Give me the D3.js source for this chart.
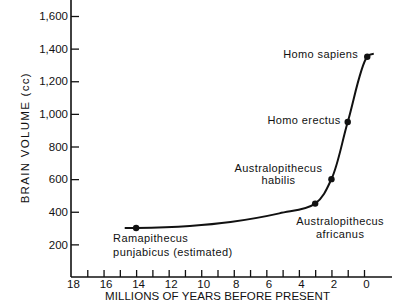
<!DOCTYPE html>
<html lang="en">
<head>
  <meta charset="UTF-8">
  <title>Brain volume over time</title>
  <script src="https://cdnjs.cloudflare.com/ajax/libs/d3/7.8.5/d3.min.js"></script>
  <style>
    body { margin: 0; background: #fff; }
    svg { display: block; font-family: "Liberation Sans", Arial, sans-serif; }
    text { fill: #111; }
  </style>
</head>
<body>
  <div id="chart"></div>
  <script>
    // curve (millions of years before present, cc)
    const curveYears  = [14.7, 14.0, 10.7, 8.2, 5.2, 3.0, 2.0, 1.0, -0.2, -0.6];
    const curveVolume = [300, 300, 313, 337, 390, 450, 600, 950, 1350, 1368];

    // labelled specimens
    const species = ["Ramapithecus", "Australopithecus africanus", "Australopithecus habilis", "Homo erectus", "Homo sapiens"];
    const speciesYears  = [14.0, 3.0, 2.0, 1.0, -0.2];
    const speciesVolume = [300, 450, 600, 950, 1350];
    const speciesLines = [
      ["Ramapithecus", "punjabicus (estimated)"],
      ["Australopithecus", "africanus"],
      ["Australopithecus", "habilis"],
      ["Homo erectus"],
      ["Homo sapiens"]
    ];

    const yTicks = [200, 400, 600, 800, 1000, 1200, 1400, 1600];
    const xTicks = d3.range(0, 18);          // minor ticks every million years
    const xLabels = [18, 16, 14, 12, 10, 8, 6, 4, 2, 0];

    // label placement relative to each dot: anchor, dx, dy of first line, line gap
    const labelLayout = [
      { anchor: "start",  dx: -23, dy: 14, gap: 14 },
      { anchor: "middle", dx: 25,  dy: 21, gap: 13 },
      { anchor: "middle", dx: -53, dy: -7, gap: 12 },
      { anchor: "end",    dx: -7,  dy: 2,  gap: 0 },
      { anchor: "end",    dx: -9,  dy: 1,  gap: 0 }
    ];

    const W = 405, H = 308;
    const svg = d3.select("#chart").append("svg")
      .attr("width", W).attr("height", H);

    const x = d3.scaleLinear().domain([18, 0]).range([71, 364]);
    const y = d3.scaleLinear().domain([0, 1600]).range([277, 16]);

    // axes
    const xAxis = svg.append("g")
      .attr("transform", `translate(0,${y(0)})`)
      .call(d3.axisBottom(x).tickValues(xTicks).tickSizeInner(-7).tickSizeOuter(0)
        .tickFormat(() => ""));
    xAxis.select(".domain").remove();
    xAxis.selectAll("line").attr("stroke", "#111").attr("stroke-width", 1.3);

    const xLab = svg.append("g")
      .attr("transform", `translate(0,${y(0)})`)
      .call(d3.axisBottom(x).tickValues(xLabels).tickSize(0).tickPadding(3));
    xLab.select(".domain").remove();
    xLab.selectAll("text").attr("font-size", 11.5).attr("dx", 2)
      .attr("font-family", "Liberation Sans, Arial, sans-serif");

    const yAxis = svg.append("g")
      .attr("transform", `translate(${x(18)},0)`)
      .call(d3.axisLeft(y).tickValues(yTicks).tickSizeInner(-8).tickSizeOuter(0).tickPadding(3)
        .tickFormat(d3.format(",")));
    yAxis.select(".domain").remove();
    yAxis.selectAll("line").attr("stroke", "#111").attr("stroke-width", 1.3);
    yAxis.selectAll("text").attr("font-size", 11.5)
      .attr("font-family", "Liberation Sans, Arial, sans-serif");

    // axis lines
    svg.append("line")
      .attr("x1", x(18)).attr("x2", x(-1.72))
      .attr("y1", y(0)).attr("y2", y(0))
      .attr("stroke", "#111").attr("stroke-width", 1.6);
    svg.append("line")
      .attr("x1", x(18)).attr("x2", x(18))
      .attr("y1", y(0)).attr("y2", y(1700))
      .attr("stroke", "#111").attr("stroke-width", 1.6);

    // axis titles
    svg.append("text")
      .attr("x", (x(18) + x(-1.72)) / 2 - 14).attr("y", 300)
      .attr("text-anchor", "middle")
      .attr("font-size", 11.5)
      .attr("textLength", 225).attr("lengthAdjust", "spacing")
      .text("MILLIONS OF YEARS BEFORE PRESENT");

    svg.append("text")
      .attr("transform", `translate(29,${y(850)}) rotate(-90)`)
      .attr("text-anchor", "middle")
      .attr("font-size", 11.5)
      .attr("textLength", 130).attr("lengthAdjust", "spacing")
      .text("BRAIN VOLUME (cc)");

    // curve
    const curve = curveYears.map((v, i) => [v, curveVolume[i]]);
    const line = d3.line()
      .x(d => x(d[0]))
      .y(d => y(d[1]))
      .curve(d3.curveCatmullRom.alpha(0.5));
    svg.append("path")
      .datum(curve)
      .attr("fill", "none")
      .attr("stroke", "#111")
      .attr("stroke-width", 2)
      .attr("d", line);

    // dots
    svg.selectAll("circle.pt")
      .data(species)
      .join("circle")
      .attr("class", "pt")
      .attr("cx", (d, i) => x(speciesYears[i]))
      .attr("cy", (d, i) => y(speciesVolume[i]))
      .attr("r", 3.2)
      .attr("fill", "#111");

    // labels
    species.forEach((s, i) => {
      const L = labelLayout[i];
      const t = svg.append("text")
        .attr("text-anchor", L.anchor)
        .attr("font-size", 11)
        .attr("letter-spacing", 0.4);
      speciesLines[i].forEach((txt, j) => {
        t.append("tspan")
          .attr("x", x(speciesYears[i]) + L.dx)
          .attr("y", y(speciesVolume[i]) + L.dy + j * L.gap)
          .text(txt);
      });
    });
  </script>
</body>
</html>
